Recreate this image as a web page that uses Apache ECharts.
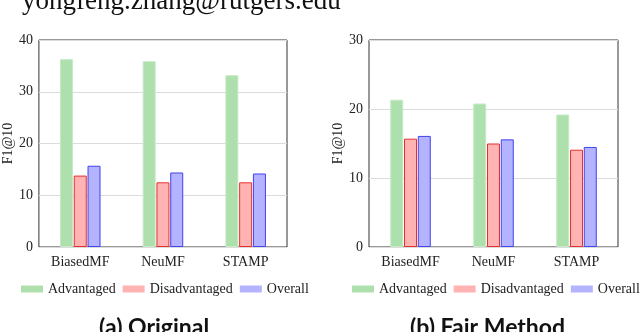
<!DOCTYPE html>
<html lang="en" style="height: 100%">
<head>
  <meta charset="utf-8">
</head>
<body style="height: 100%; margin: 0; background: #fff">
  <div id="container" style="width: 640px; height: 332px"></div>

<script type="text/javascript" src="https://cdn.jsdelivr.net/npm/echarts@6/dist/echarts.min.js"></script>

<script type="text/javascript">
var dom = document.getElementById('container');
var myChart = echarts.init(dom, null, { renderer: 'canvas' });

// categories and values
var models = ['BiasedMF', 'NeuMF', 'STAMP'];
var groups = ['Advantaged', 'Disadvantaged', 'Overall'];

// (a) Original
var origAdv = [36.3, 35.9, 33.2];
var origDis = [13.8, 12.5, 12.5];
var origAll = [15.7, 14.4, 14.2];

// (b) Fair Method
var fairAdv = [21.35, 20.8, 19.2];
var fairDis = [15.7, 15.0, 14.1];
var fairAll = [16.1, 15.6, 14.5];

var yTicksLeft = { min: 0, max: 40, interval: 10 };
var yTicksRight = { min: 0, max: 30, interval: 10 };

var serif = 'Liberation Serif';
var fills = ['#aee0ae', '#ffb3b3', '#b3b3ff'];
var borders = ['#c6eac6', '#e53030', '#4343f0'];
var labelText = { fontFamily: serif, fontSize: 14, color: '#222' };

function yAxisOf(gridIndex, ticks, gap) {
  return {
    type: 'value',
    gridIndex: gridIndex,
    min: ticks.min,
    max: ticks.max,
    interval: ticks.interval,
    name: 'F1@10',
    nameLocation: 'middle',
    nameGap: gap,
    nameTextStyle: labelText,
    axisLine: { show: false },
    axisTick: { show: false },
    axisLabel: Object.assign({ margin: 6 }, labelText),
    splitLine: { show: true, lineStyle: { color: '#dcdcdc', width: 1 } }
  };
}

function xAxisOf(gridIndex) {
  return {
    type: 'category',
    gridIndex: gridIndex,
    data: models,
    axisLine: { show: false },
    axisTick: { show: false },
    axisLabel: Object.assign({ margin: 8 }, labelText)
  };
}

function barsOf(axisIndex, lists) {
  return lists.map(function (vals, i) {
    return {
      name: groups[i],
      type: 'bar',
      xAxisIndex: axisIndex,
      yAxisIndex: axisIndex,
      barWidth: 13,
      barGap: '6%',
      itemStyle: { color: fills[i], borderColor: borders[i], borderWidth: 1 },
      data: vals
    };
  });
}

function legendOf(left) {
  return {
    data: groups,
    left: left,
    top: 282,
    width: 320,
    icon: 'rect',
    itemWidth: 22,
    itemHeight: 7,
    itemGap: 7,
    padding: 0,
    selectedMode: false,
    itemStyle: { borderWidth: 0 },
    textStyle: {
      fontFamily: serif, fontSize: 14, color: '#222',
      rich: { s: { fontFamily: serif, fontSize: 14, color: '#222' } }
    },
    formatter: function (name) { return '{s|' + name + '}'; }
  };
}

var option = {
  animation: false,
  textStyle: { fontFamily: serif },
  color: fills,
  grid: [
    { left: 37, top: 40, width: 250, height: 207, show: true, borderColor: '#333', borderWidth: 1, backgroundColor: 'transparent' },
    { left: 369, top: 40, width: 249, height: 207, show: true, borderColor: '#333', borderWidth: 1, backgroundColor: 'transparent' }
  ],
  xAxis: [xAxisOf(0), xAxisOf(1)],
  yAxis: [yAxisOf(0, yTicksLeft, 22), yAxisOf(1, yTicksRight, 24)],
  legend: [legendOf(21), legendOf(352)],
  graphic: [
    {
      type: 'text', left: 22, top: -12,
      style: { text: 'yongfeng.zhang@rutgers.edu', font: '27px "Liberation Serif"', fill: '#111' }
    },
    {
      type: 'text', left: 99, top: 316,
      style: { text: '(a) Original', font: 'bold 23px Lato', fill: '#111' }
    },
    {
      type: 'text', left: 410, top: 316,
      style: { text: '(b) Fair Method', font: 'bold 23px Lato', fill: '#111' }
    }
  ],
  series: barsOf(0, [origAdv, origDis, origAll]).concat(barsOf(1, [fairAdv, fairDis, fairAll]))
};

myChart.setOption(option);
window.addEventListener('resize', myChart.resize);
</script>
</body>
</html>
